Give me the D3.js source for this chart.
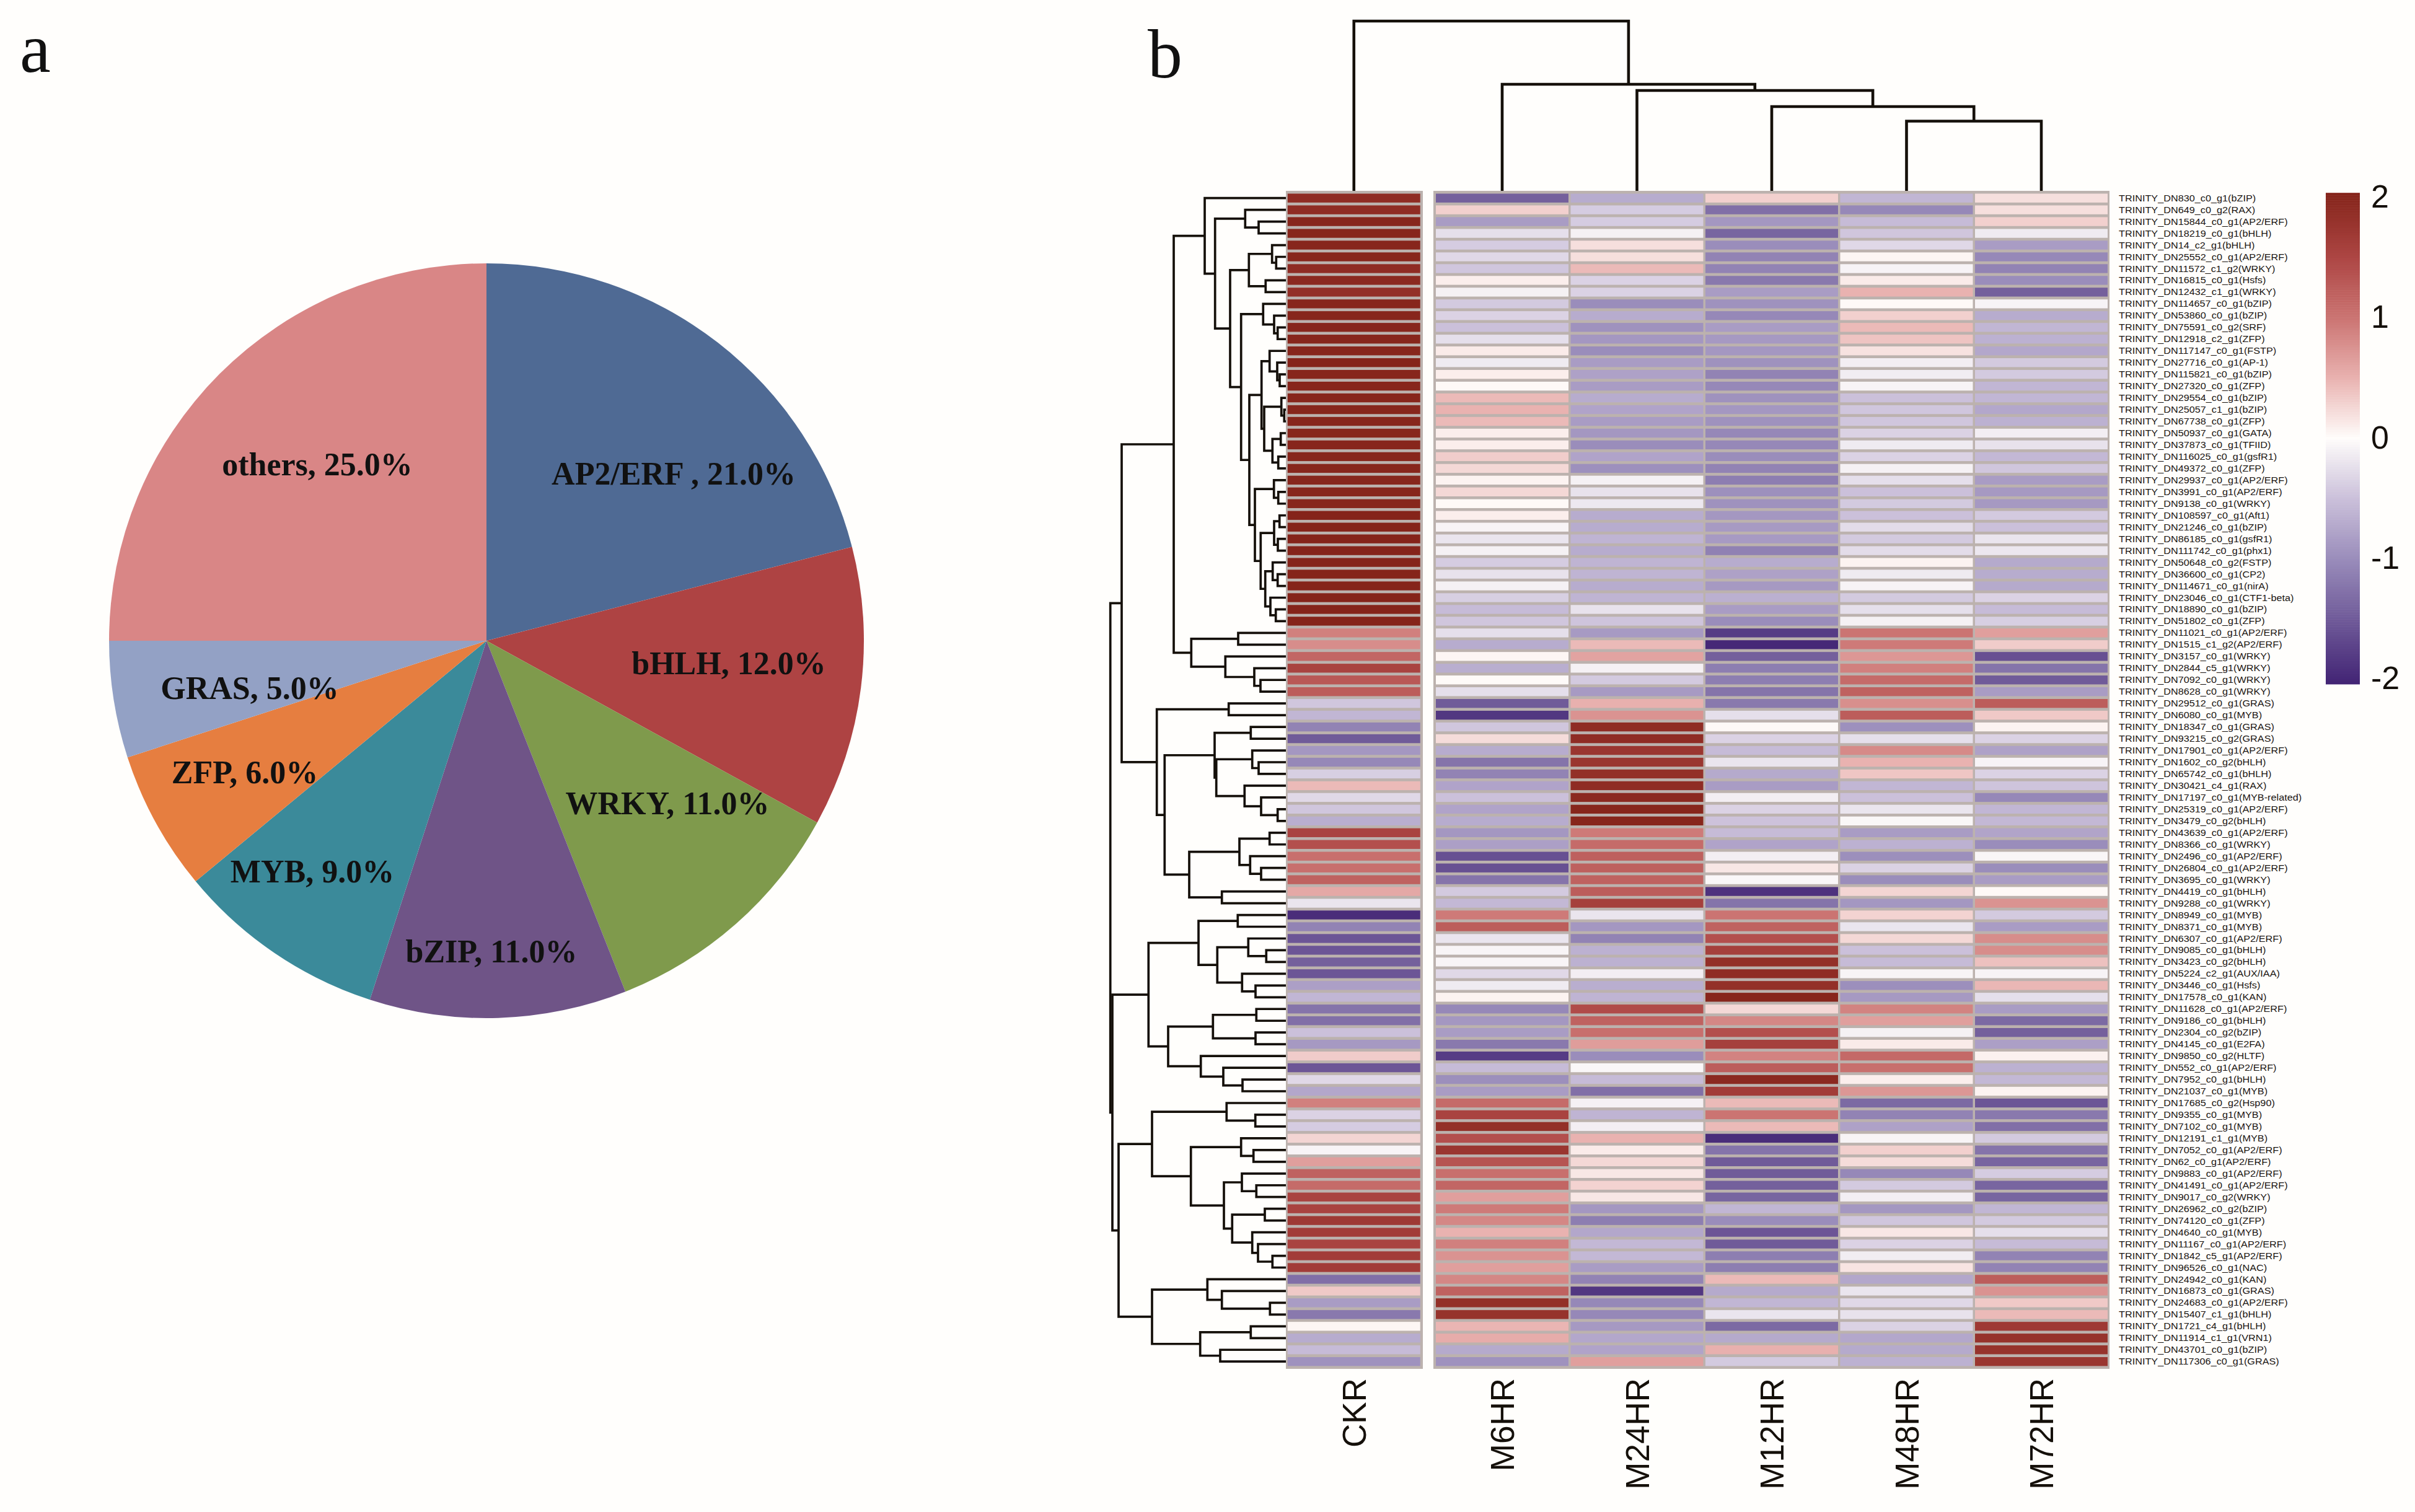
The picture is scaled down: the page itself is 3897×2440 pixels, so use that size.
<!DOCTYPE html>
<html><head><meta charset="utf-8">
<script src="https://cdn.jsdelivr.net/npm/d3@7"></script>
<style>html,body{margin:0;padding:0;background:#fffefc}svg{display:block}</style>
</head><body><svg id="c" width="3897" height="2440"></svg>
<script>
// ---------- data ----------
const pieNames=["AP2/ERF ","bHLH","WRKY","bZIP","MYB","ZFP","GRAS","others"];
const pieValues=[21,12,11,11,9,6,5,25];
const pieColors=["#4f6a94","#ae4343","#7f9a4c","#6f5487","#3b8a9a","#e67e40","#93a1c5","#d98686"];
const columns=["CKR","M6HR","M24HR","M12HR","M48HR","M72HR"];
const rowNames=["DN830_c0_g1(bZIP)","DN649_c0_g2(RAX)","DN15844_c0_g1(AP2/ERF)","DN18219_c0_g1(bHLH)","DN14_c2_g1(bHLH)","DN25552_c0_g1(AP2/ERF)","DN11572_c1_g2(WRKY)","DN16815_c0_g1(Hsfs)","DN12432_c1_g1(WRKY)","DN114657_c0_g1(bZIP)",
"DN53860_c0_g1(bZIP)","DN75591_c0_g2(SRF)","DN12918_c2_g1(ZFP)","DN117147_c0_g1(FSTP)","DN27716_c0_g1(AP-1)","DN115821_c0_g1(bZIP)","DN27320_c0_g1(ZFP)","DN29554_c0_g1(bZIP)","DN25057_c1_g1(bZIP)","DN67738_c0_g1(ZFP)",
"DN50937_c0_g1(GATA)","DN37873_c0_g1(TFIID)","DN116025_c0_g1(gsfR1)","DN49372_c0_g1(ZFP)","DN29937_c0_g1(AP2/ERF)","DN3991_c0_g1(AP2/ERF)","DN9138_c0_g1(WRKY)","DN108597_c0_g1(Aft1)","DN21246_c0_g1(bZIP)","DN86185_c0_g1(gsfR1)",
"DN111742_c0_g1(phx1)","DN50648_c0_g2(FSTP)","DN36600_c0_g1(CP2)","DN114671_c0_g1(nirA)","DN23046_c0_g1(CTF1-beta)","DN18890_c0_g1(bZIP)","DN51802_c0_g1(ZFP)","DN11021_c0_g1(AP2/ERF)","DN1515_c1_g2(AP2/ERF)","DN3157_c0_g1(WRKY)",
"DN2844_c5_g1(WRKY)","DN7092_c0_g1(WRKY)","DN8628_c0_g1(WRKY)","DN29512_c0_g1(GRAS)","DN6080_c0_g1(MYB)","DN18347_c0_g1(GRAS)","DN93215_c0_g2(GRAS)","DN17901_c0_g1(AP2/ERF)","DN1602_c0_g2(bHLH)","DN65742_c0_g1(bHLH)",
"DN30421_c4_g1(RAX)","DN17197_c0_g1(MYB-related)","DN25319_c0_g1(AP2/ERF)","DN3479_c0_g2(bHLH)","DN43639_c0_g1(AP2/ERF)","DN8366_c0_g1(WRKY)","DN2496_c0_g1(AP2/ERF)","DN26804_c0_g1(AP2/ERF)","DN3695_c0_g1(WRKY)","DN4419_c0_g1(bHLH)",
"DN9288_c0_g1(WRKY)","DN8949_c0_g1(MYB)","DN8371_c0_g1(MYB)","DN6307_c0_g1(AP2/ERF)","DN9085_c0_g1(bHLH)","DN3423_c0_g2(bHLH)","DN5224_c2_g1(AUX/IAA)","DN3446_c0_g1(Hsfs)","DN17578_c0_g1(KAN)","DN11628_c0_g1(AP2/ERF)",
"DN9186_c0_g1(bHLH)","DN2304_c0_g2(bZIP)","DN4145_c0_g1(E2FA)","DN9850_c0_g2(HLTF)","DN552_c0_g1(AP2/ERF)","DN7952_c0_g1(bHLH)","DN21037_c0_g1(MYB)","DN17685_c0_g2(Hsp90)","DN9355_c0_g1(MYB)","DN7102_c0_g1(MYB)",
"DN12191_c1_g1(MYB)","DN7052_c0_g1(AP2/ERF)","DN62_c0_g1(AP2/ERF)","DN9883_c0_g1(AP2/ERF)","DN41491_c0_g1(AP2/ERF)","DN9017_c0_g2(WRKY)","DN26962_c0_g2(bZIP)","DN74120_c0_g1(ZFP)","DN4640_c0_g1(MYB)","DN11167_c0_g1(AP2/ERF)",
"DN1842_c5_g1(AP2/ERF)","DN96526_c0_g1(NAC)","DN24942_c0_g1(KAN)","DN16873_c0_g1(GRAS)","DN24683_c0_g1(AP2/ERF)","DN15407_c1_g1(bHLH)","DN1721_c4_g1(bHLH)","DN11914_c1_g1(VRN1)","DN43701_c0_g1(bZIP)","DN117306_c0_g1(GRAS)"].map(s=>"TRINITY_"+s);
const CKR=[1.9,1.9,2,2,2,2,1.9,1.95,1.85,2,
2,2,2,2,2.03,2,2,2,2,2,
2,2,2,2,2,2,2,2.03,2.03,2.03,
2.03,2.03,2.03,2.03,2.03,2.03,2.03,0.9,0.8,1.15,
1.55,1.3,1.25,-0.45,-0.6,-1.1,-1.5,-0.9,-1.05,-0.38,
0.45,-0.3,-0.45,-0.68,1.55,1.4,1.05,1.05,1.2,0.58,
-0.2,-1.95,-1.1,-1.55,-1.55,-1.45,-1.55,-0.82,-0.6,-1.25,
-1.3,-0.5,-0.88,0.33,-1.55,-0.3,-0.75,0.9,-0.35,-0.4,
0.27,-0.07,0.65,1.2,1.1,1.55,1.55,1.7,1.65,1.55,
1.65,1.65,-1.3,0.35,-0.85,-1.2,0.05,-0.7,-0.55,-0.95];
const M6=[-1.45,0.3,-0.85,-0.25,-0.4,-0.3,-0.45,0.1,-0.1,-0.42,
-0.35,-0.5,-0.25,0.12,-0.15,0.1,0.03,0.45,0.5,0.45,
0.1,0.1,0.32,0.25,0.07,0.25,0.03,0.1,-0.07,-0.2,
-0.1,-0.4,-0.22,-0.1,-0.38,-0.55,-0.45,-0.25,-0.7,0.05,
-0.68,0.02,-0.25,-1.5,-1.85,-0.45,0.22,-0.7,-1.25,-1.1,
-0.78,-0.5,-0.78,-0.7,-0.9,-0.82,-1.6,-1.6,-1.25,-0.42,
-0.58,0.95,1.25,-0.2,-0.07,-0.07,-0.3,-0.15,0.07,-1.05,
-0.9,-0.85,-1.2,-1.8,-0.55,-0.98,-0.85,1.1,1.55,1.85,
1.4,1.75,1.35,1.05,1.15,0.65,0.95,0.85,0.5,0.9,
0.75,0.65,0.85,1.2,1.85,1.8,0.48,0.55,-0.72,-0.95];
const M24=[-0.7,-0.4,-0.4,-0.1,0.2,0.2,0.45,-0.35,-0.35,-1.0,
-0.7,-0.95,-0.9,-1.0,-0.85,-0.8,-0.85,-0.7,-0.78,-0.85,
-0.9,-1.0,-0.78,-0.97,-0.1,-0.22,-0.17,-0.7,-0.7,-0.62,
-0.7,-0.62,-0.62,-0.7,-0.62,-0.22,-0.47,-0.87,0.45,0.62,
-0.1,-0.42,-0.87,0.52,0.75,1.9,1.9,1.75,1.75,1.85,
1.9,1.95,2,2,0.95,1.1,1.22,1.22,1.2,1.25,
1.6,-0.2,-0.9,-1.1,-0.65,-0.65,-0.12,-0.68,-0.62,1.45,
1.2,1.05,0.67,-1.0,-0.05,-0.55,-1.3,-0.1,-0.62,-0.12,
0.5,0.12,0.25,0.15,0.28,0.15,-0.9,-1.15,-0.75,-0.58,
-0.58,-0.85,-1.1,-1.85,-1.05,-1.05,-0.88,-0.75,-0.78,0.65];
const M12=[0.3,-1.3,-0.9,-1.4,-1.0,-1.1,-1.1,-1.2,-0.85,-0.95,
-1.05,-0.85,-0.88,-0.9,-0.95,-1.1,-1.05,-0.95,-0.9,-0.95,
-1.05,-1.05,-1.0,-1.1,-1.15,-0.97,-0.95,-0.9,-0.87,-0.87,
-1.12,-0.7,-0.8,-0.88,-0.66,-0.85,-1.0,-1.8,-2,-1.45,
-1.15,-1.15,-1.25,-1.2,-0.25,0.03,-0.35,-0.55,-0.2,-0.72,
-0.85,-0.12,-0.35,-0.48,-0.55,-0.78,-0.12,0.15,-0.05,-1.9,
-1.25,1.0,1.2,1.4,1.6,1.85,1.9,1.85,2,0.25,
0.85,1.4,1.6,0.88,1.25,1.95,1.65,0.45,1.0,0.45,
-1.95,-1.25,-1.5,-1.5,-1.45,-1.4,-0.6,-1.0,-1.55,-1.5,
-1.15,-1.15,0.45,-0.72,-0.6,-0.2,-1.35,-0.72,0.52,-0.42];
const M48=[-0.6,-1.05,-0.55,-0.45,-0.3,0.05,-0.08,0.12,0.5,0.03,
0.3,0.45,0.38,0.18,-0.12,-0.13,-0.07,-0.5,-0.45,-0.45,
-0.35,-0.15,-0.35,-0.1,-0.25,-0.5,-0.42,-0.5,-0.27,-0.42,
-0.27,0.07,-0.15,-0.08,-0.42,-0.25,-0.1,1.0,0.95,0.72,
0.9,1.1,1.2,0.78,1.25,-0.97,-0.25,0.82,0.5,0.37,
-0.6,-0.5,-0.2,-0.05,-0.85,-0.65,-0.98,-0.35,-1,0.27,
-0.9,0.28,-0.2,0.25,-0.5,-0.55,-0.07,-0.98,-0.88,0.88,
0.65,-0.1,0.12,1.12,1.05,0.1,0.72,-1.35,-1.1,-0.8,
-0.07,0.3,0.22,-1.05,-0.42,-0.12,-0.9,-0.45,0.15,-0.35,
-0.13,0.17,-0.75,-0.2,-0.3,-0.22,-0.35,-0.75,-0.72,-0.65];
const M72=[0.2,0.2,0.3,-0.15,-0.85,-1.05,-1.1,-1.0,-1.45,-0.08,
-0.7,-0.6,-0.65,-0.75,-0.42,-0.42,-0.6,-0.6,-0.75,-0.65,
-0.12,-0.22,-0.58,-0.45,-0.85,-0.88,-0.88,-0.42,-0.5,-0.2,
-0.18,-0.72,-0.7,-0.72,-0.35,-0.55,-0.38,0.65,0.33,-1.6,
-1.25,-1.5,-0.85,1.25,0.35,0.07,-0.35,-0.8,-0.08,-0.35,
-0.47,-1.05,-0.6,-0.58,-0.77,-1.0,-0.06,-1.0,-0.85,0.03,
0.75,-0.42,-0.85,0.8,0.8,0.4,-0.08,0.47,-0.25,-0.85,
-1.35,-1.45,-0.82,0.08,-0.65,-0.58,0.07,-1.55,-1.2,-1.3,
-0.42,-1.25,-1.4,-0.4,-1.4,-1.4,-0.6,-0.42,-0.25,-0.55,
-1.1,-1.1,1.25,0.75,0.35,0.45,1.7,1.8,1.8,1.75];
const series=[CKR,M6,M24,M12,M48,M72];
const legendTicks=[2,1,0,-1,-2];
const colorDomain=[-2.03,-1,-0.5,0,0.5,1,1.5,2.03];
const colorRange=["#432575","#9a8dbb","#cbc0da","#fffdfb","#e9b2b0","#cb7472","#ad4644","#85241a"];
// merge trees: [height, left, right]; a bare number is a leaf (row number / column index)
const colTree=[274,0,[172,1,[162,2,[136,3,[112.5,4,5]]]]];
const treeA=[131,1,[114.3,[65.7,2,[44,3,4]],[90,[59.7,[22.3,5,[15.7,6,7]],[32.7,8,9]],[72.3,[36.7,10,[19,11,[13.3,12,13]]],[59,[39.3,[26.3,14,[14,15,[10,16,17]]],[35,[7.3,18,[2.7,19,20]],[21.7,[8.3,21,22],[12.3,23,24]]]],[50,[19.3,25,[12.3,26,27]],[40.7,[19,[10.3,28,29],[13,30,31]],[33.3,[21.3,32,[13.3,33,34]],[25,35,[16.3,36,37]]]]]]]]]];
const treeB=[152.7,[77,38,39],[97.7,40,[51,41,[41,42,43]]]];
const treeC=[208.3,[92.3,44,45],[195.7,[115,[56.7,46,47],[112.3,[54.3,48,[44,49,50]],[66.7,51,[40,52,[13.3,53,54]]]]],[156,[75,[26.3,55,56],[57.7,57,[40,58,59]]],[103.3,60,61]]]];
const treeD=[221.7,[141,[77.7,62,63],[110.7,[60.7,64,[31.7,65,66]],[70.7,67,[49,68,69]]]],[190,[117.7,[47.7,70,71],[49,72,73]],[137.3,74,[101,75,[70,76,77]]]]];
const treeE=[270,[216,[95.7,78,[49.3,79,80]],[153.3,[72.3,81,[52.3,82,83]],[100,[71,84,[47.7,85,86]],[86.7,[34,87,88],[54.3,89,[45,90,[21.7,91,92]]]]]]],[216,[126.7,93,[103.3,94,[25.7,95,96]]],[138.3,[56.7,97,98],[106,99,100]]]];
const rowTree=[283.3,[265,[181,treeA,treeB],treeC],[280,treeD,treeE]];

// ---------- layout ----------
const INK="#15100a", GRID="#bcb2ae", SANS="'Liberation Sans',Arial,sans-serif", SERIF="'Liberation Serif',serif";
const pieCenter=[785,1034], pieRadius=609;
const pieLabelCenters=[[1087,765],[1176,1071],[1077,1297],[793,1536],[504,1407],[395,1247],[403,1111],[512,750]];
const svg=d3.select("#c");
svg.append("rect").attr("width",3897).attr("height",2440).attr("fill","#fffefc");

// panel letters
svg.append("text").attr("x",32).attr("y",116).text("a").attr("font-family",SERIF).attr("font-size",112).attr("fill","#111");
svg.append("text").attr("x",1852).attr("y",125).text("b").attr("font-family",SERIF).attr("font-size",112).attr("fill","#111");

// pie
const pie=d3.pie().sort(null).value(d=>d)(pieValues);
const arc=d3.arc().innerRadius(0).outerRadius(pieRadius);
const gp=svg.append("g").attr("transform",`translate(${pieCenter})`);
gp.selectAll("path").data(pie).join("path").attr("d",arc).attr("fill",(d,i)=>pieColors[i]);
svg.append("g").selectAll("text").data(pieNames).join("text")
 .attr("x",(d,i)=>pieLabelCenters[i][0]).attr("y",(d,i)=>pieLabelCenters[i][1]).attr("dy","0.33em")
 .attr("text-anchor","middle").attr("font-family",SERIF).attr("font-weight","bold").attr("font-size",52)
 .attr("fill","#111").text((d,i)=>`${d}, ${pieValues[i].toFixed(1)}%`);

// heatmap scales
const y=d3.scaleBand().domain(d3.range(rowNames.length)).range([310.2,2206.7]);
const xCKR=d3.scaleBand().domain(["CKR"]).range([2076,2293.5]);
const xMain=d3.scaleBand().domain(columns.slice(1)).range([2315.25,3402.75]);
const xOf=c=>c==="CKR"?xCKR(c):xMain(c);
const color=d3.scaleLinear().domain(colorDomain).range(colorRange).clamp(true);
const gh=svg.append("g");
[[2075,2296],[2313,3404]].forEach(([a,b])=>gh.append("rect").attr("x",a).attr("y",308).attr("width",b-a).attr("height",1901).attr("fill",GRID));
const cellW=xMain.bandwidth()-3.5, cellH=y.bandwidth()-4.6;
columns.forEach((c,j)=>{
 gh.append("g").selectAll("rect").data(series[j]).join("rect")
  .attr("x",xOf(c)+1.75).attr("y",(d,i)=>y(i)+2.3).attr("width",cellW).attr("height",cellH).attr("fill",d=>color(d));
});
// row labels
svg.append("g").selectAll("text").data(rowNames).join("text")
 .attr("x",3419).attr("y",(d,i)=>y(i)+y.bandwidth()/2).attr("dy","0.36em")
 .attr("font-family",SANS).attr("font-size",14).attr("fill","#1a1512").text(d=>d)
 .each(function(){const w=this.getComputedTextLength();d3.select(this).attr("textLength",w*1.16).attr("lengthAdjust","spacingAndGlyphs");});
// column labels
svg.append("g").selectAll("text").data(columns).join("text")
 .attr("transform",c=>`translate(${xOf(c)+xMain.bandwidth()/2+19},2224) rotate(-90)`)
 .attr("text-anchor","end").attr("font-family",SANS).attr("font-size",53).attr("fill",INK).text(d=>d);

// dendrograms
function walk(n,leafPos,hPos,out){
 if(typeof n==="number") return {p:leafPos(n),h:hPos(0)};
 const a=walk(n[1],leafPos,hPos,out), b=walk(n[2],leafPos,hPos,out), h=hPos(n[0]);
 out.push({a,b,h});
 return {p:(a.p+b.p)/2,h};
}
const rowH=d3.scaleLinear().domain([0,283.3]).range([2075,1791.7]);
const rowSegs=[]; walk(rowTree,i=>y(i-1)+y.bandwidth()/2,rowH,rowSegs);
svg.append("g").attr("fill","none").attr("stroke",INK).attr("stroke-width",3.7).selectAll("path").data(rowSegs).join("path")
 .attr("d",s=>{const p=d3.path();p.moveTo(s.a.h,s.a.p);p.lineTo(s.h,s.a.p);p.lineTo(s.h,s.b.p);p.lineTo(s.b.h,s.b.p);return p.toString();});
const colH=d3.scaleLinear().domain([0,274]).range([308,34]);
const colSegs=[]; walk(colTree,j=>xOf(columns[j])+xMain.bandwidth()/2,colH,colSegs);
svg.append("g").attr("fill","none").attr("stroke",INK).attr("stroke-width",4.6).selectAll("path").data(colSegs).join("path")
 .attr("d",s=>{const p=d3.path();p.moveTo(s.a.p,s.a.h);p.lineTo(s.a.p,s.h);p.lineTo(s.b.p,s.h);p.lineTo(s.b.p,s.b.h);return p.toString();});

// legend
const lg=d3.scaleLinear().domain([2,-2]).range([317,1094]);
const lgVals=d3.range(0,197).map(i=>2.03-i*4.06/196);
svg.append("g").selectAll("rect").data(lgVals).join("rect")
 .attr("x",3753).attr("y",d=>lg(d)).attr("width",55).attr("height",4.6).attr("fill",d=>color(d));
svg.append("g").selectAll("text").data(legendTicks).join("text")
 .attr("x",3826).attr("y",d=>lg(d)).attr("dy","0.35em").attr("font-family",SANS).attr("font-size",52)
 .attr("fill",INK).text(d=>d<0?"-"+Math.abs(d):d);
</script></body></html>
